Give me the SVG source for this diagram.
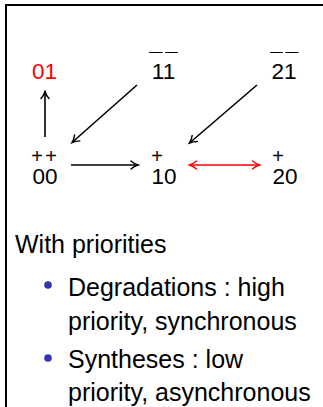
<svg xmlns="http://www.w3.org/2000/svg" width="323" height="407" viewBox="0 0 323 407">
<style>
.n{font-family:"Liberation Sans",Arial,sans-serif;font-size:22.5px;fill:#000;text-anchor:middle}
.p{font-family:"Liberation Sans",Arial,sans-serif;font-size:20px;fill:#000;text-anchor:middle}
.t{font-family:"Liberation Sans",Arial,sans-serif;font-size:25px;fill:#000}
.ov{stroke:#000;stroke-width:1}
.e{stroke:#000;stroke-width:1.6;fill:none}
.r{stroke:#f00;stroke-width:1.6;fill:none}
</style>
<defs>
<marker id="ab" markerUnits="userSpaceOnUse" viewBox="-9 -6 11 12" refX="0" refY="0" markerWidth="11" markerHeight="12" orient="auto-start-reverse">
<path d="M-7,-4 C-4.5,-1.8 -2,-0.6 0,0 C-2,0.6 -4.5,1.8 -7,4" fill="none" stroke="#000" stroke-width="1.4" stroke-linecap="round"/>
</marker>
<marker id="ar" markerUnits="userSpaceOnUse" viewBox="-9 -6 11 12" refX="0" refY="0" markerWidth="11" markerHeight="12" orient="auto-start-reverse">
<path d="M-7,-4 C-4.5,-1.8 -2,-0.6 0,0 C-2,0.6 -4.5,1.8 -7,4" fill="none" stroke="#f00" stroke-width="1.4" stroke-linecap="round"/>
</marker>
</defs>
<path d="M6,407 V5 H323" fill="none" stroke="#000" stroke-width="2"/>
<g id="n01"><text class="n" x="44.5" y="79" style="fill:#f00">01</text></g>
<g id="n11"><text class="n" x="163.5" y="79">11</text><line class="ov" x1="149" y1="52.5" x2="162.5" y2="52.5"/><line class="ov" x1="165" y1="52.5" x2="178" y2="52.5"/></g>
<g id="n21"><text class="n" x="284" y="79">21</text><line class="ov" x1="270" y1="52.5" x2="283" y2="52.5"/><line class="ov" x1="285.5" y1="52.5" x2="298.5" y2="52.5"/></g>
<g id="n00"><text class="p" x="37" y="162.5">+</text><text class="p" x="51" y="162.5">+</text><text class="n" x="45" y="183.5">00</text></g>
<g id="n10"><text class="p" x="157" y="162.5">+</text><text class="n" x="164" y="183.5">10</text></g>
<g id="n20"><text class="p" x="278" y="162.5">+</text><text class="n" x="285" y="183.5">20</text></g>
<g id="edges">
<line class="e" x1="45" y1="137" x2="45" y2="91.5" marker-end="url(#ab)"/>
<line class="e" x1="137" y1="85" x2="72" y2="142.5" marker-end="url(#ab)"/>
<line class="e" x1="257" y1="85" x2="189.5" y2="143" marker-end="url(#ab)"/>
<line class="e" x1="71" y1="165" x2="138" y2="165" marker-end="url(#ab)"/>
<line class="r" x1="189.5" y1="165" x2="259.5" y2="165" marker-start="url(#ar)" marker-end="url(#ar)"/>
</g>
<g id="text">
<text class="t" x="15" y="253">With priorities</text>
<circle cx="48" cy="285" r="3.8" fill="#3333b3"/>
<text class="t" x="68" y="295.5">Degradations : high</text>
<text class="t" x="68" y="329.5">priority, synchronous</text>
<circle cx="48" cy="358" r="3.8" fill="#3333b3"/>
<text class="t" x="68" y="367.5">Syntheses : low</text>
<text class="t" x="68" y="401">priority, asynchronous</text>
</g>
</svg>
